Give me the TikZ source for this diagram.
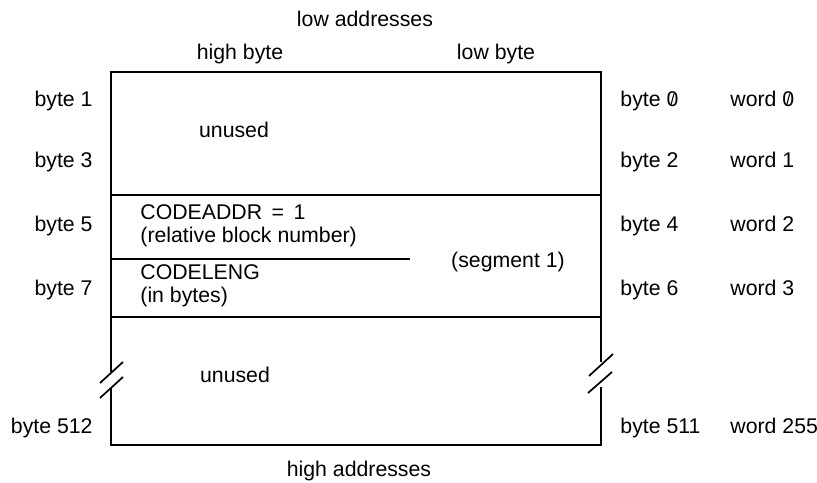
\documentclass[tikz,border=0pt]{standalone}
\usepackage{fontspec}
\setmainfont{Liberation Sans}
\usepackage{graphicx}
\usetikzlibrary{positioning}
\newcommand{\slz}{\ooalign{0\cr\hidewidth\raisebox{.1ex}{\scalebox{.75}{/}}\hidewidth\cr}}

\begin{document}
\begin{tikzpicture}[x=0.47pt, y=-0.47pt, font=\fontsize{10}{12}\selectfont,
    lbl/.style={inner sep=0pt, anchor=base},
    lbll/.style={inner sep=0pt, anchor=base west},
    lblr/.style={inner sep=0pt, anchor=base east},
    frame/.style={line width=1.3pt},
    divide/.style={line width=0.8pt},
    brk/.style={line width=0.8pt}]
        \useasboundingbox (0,0) rectangle (817,483);
        \coordinate (nw) at (111,72);
        \coordinate (ne) at (601,72);
        \coordinate (sw) at (111,445);
        \coordinate (se) at (601,445);
        \draw[frame] (sw |- 0,372) -- (nw) -- (ne) -- (ne |- 0,362);
        \draw[frame] (sw |- 0,388) -- (sw) -- (se) -- (se |- 0,387);
        \draw[brk] (100,383) -- (123,362);
        \draw[brk] (100,398) -- (123,377);
        \draw[brk] (589,376) -- (613,354);
        \draw[brk] (588,393) -- (612,372);
        \draw[divide] (111,195) -- (601,195);
        \draw[divide] (111,259) -- (410,259);
        \draw[divide] (111,317) -- (601,317);

        \node[lbl] (lowaddr)  at (365,27)  {low addresses};
        \node[lbl] (highaddr) at (359,477) {high addresses};
        \node[lbl] (highbyte) at (240,60)  {high byte};
        \node[lbl] (lowbyte)  at (496,60)  {low byte};

        \node[lblr] (b1)   at (93,107) {byte 1};
        \node[lblr] (b3)   at (93,168) {byte 3};
        \node[lblr] (b5)   at (93,232) {byte 5};
        \node[lblr] (b7)   at (93,296) {byte 7};
        \node[lblr] (b512) at (93,434) {byte 512};

        \node[lbll] (b0)   at (620,107) {byte \slz};
        \node[lbll] (b2)   at (620,168) {byte 2};
        \node[lbll] (b4)   at (620,232) {byte 4};
        \node[lbll] (b6)   at (620,296) {byte 6};
        \node[lbll] (b511) at (620,434) {byte 511};

        \node[lbll] (w0)   at (730,107) {word \slz};
        \node[lbll] (w1)   at (730,168) {word 1};
        \node[lbll] (w2)   at (730,232) {word 2};
        \node[lbll] (w3)   at (730,296) {word 3};
        \node[lbll] (w255) at (730,434) {word 255};

        \node[lbl] (unusedtop) at (234,138) {unused};
        \node[lbll] (codeaddr) at (140,220) {CODEADDR\,\ =\,\ 1};
        \node[lbll] (relblock) at (140,243) {(relative block number)};
        \node[lbll] (codeleng) at (140,280) {CODELENG};
        \node[lbll] (inbytes)  at (140,303) {(in bytes)};
        \node[lbl] (segment)  at (508,268) {(segment 1)};
        \node[lbl] (unusedbot) at (235,383) {unused};
      \end{tikzpicture}
\end{document}
